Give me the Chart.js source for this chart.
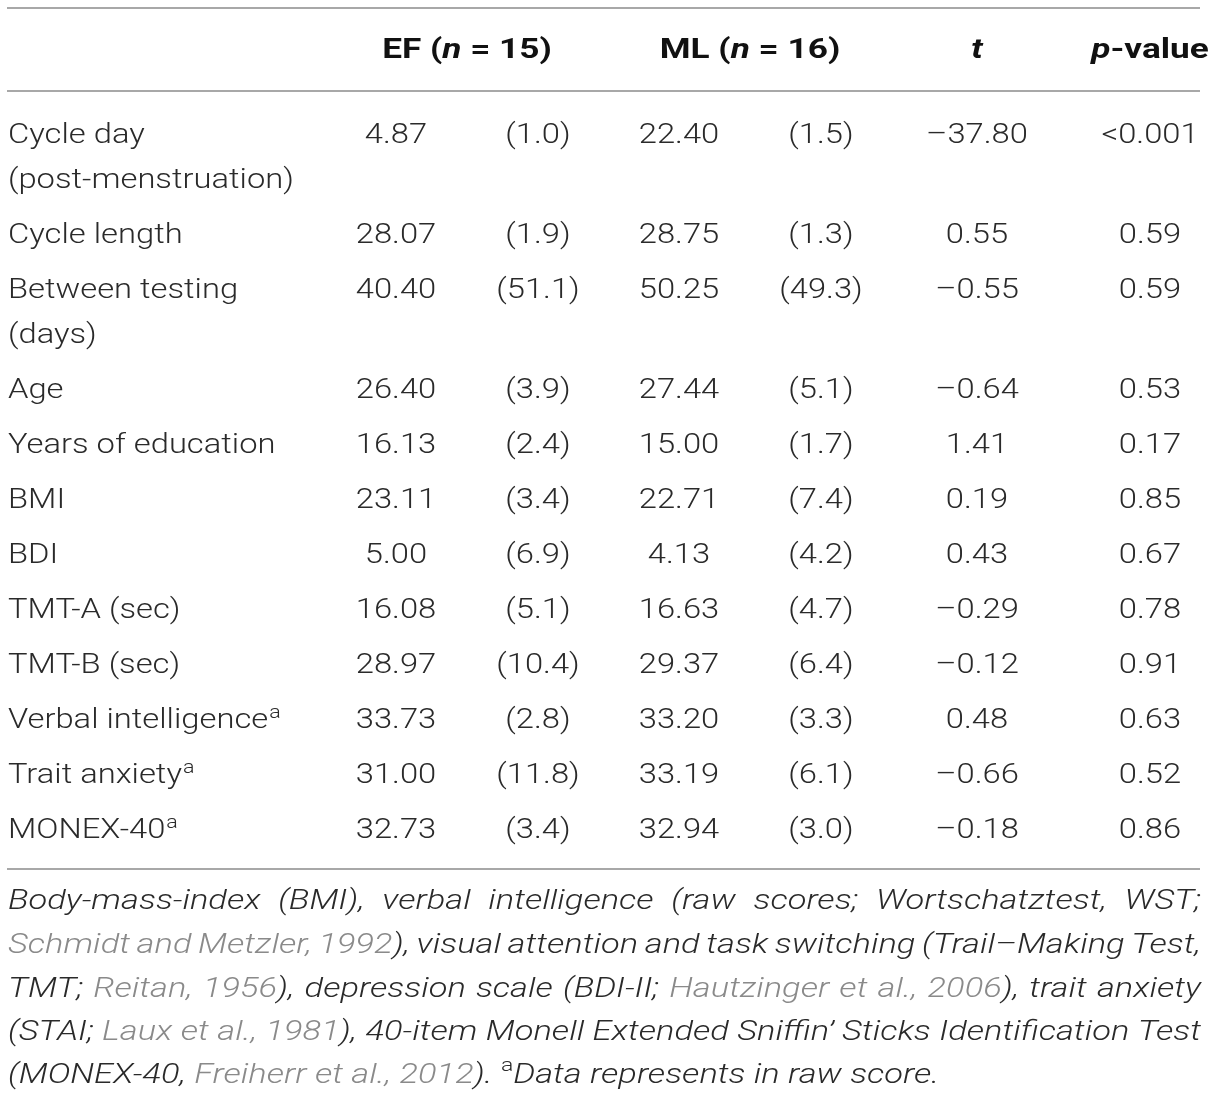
<!DOCTYPE html>
<html>
<head>
<meta charset="utf-8">
<script src="https://cdn.jsdelivr.net/npm/chart.js@4.4.1/dist/chart.umd.min.js"></script>
<style>
  html, body { margin: 0; padding: 0; background: #fff; }
  #wrap { width: 1215px; height: 1101px; position: relative; }
</style>
</head>
<body>
<div id="wrap"><canvas id="table"></canvas></div>

<script>
// table values
const rowLabels = [
    ["Cycle day", "(post-menstruation)"],
    ["Cycle length"],
    ["Between testing", "(days)"],
    ["Age"],
    ["Years of education"],
    ["BMI"],
    ["BDI"],
    ["TMT-A (sec)"],
    ["TMT-B (sec)"],
    ["Verbal intelligence"],
    ["Trait anxiety"],
    ["MONEX-40"]
];
const labelNotes = ["", "", "", "", "", "", "", "", "", "a", "a", "a"];
const efMean = [4.87, 28.07, 40.40, 26.40, 16.13, 23.11, 5.00, 16.08, 28.97, 33.73, 31.00, 32.73];
const efSD   = [1.0, 1.9, 51.1, 3.9, 2.4, 3.4, 6.9, 5.1, 10.4, 2.8, 11.8, 3.4];
const mlMean = [22.40, 28.75, 50.25, 27.44, 15.00, 22.71, 4.13, 16.63, 29.37, 33.20, 33.19, 32.94];
const mlSD   = [1.5, 1.3, 49.3, 5.1, 1.7, 7.4, 4.2, 4.7, 6.4, 3.3, 6.1, 3.0];
const tValues = [-37.80, 0.55, -0.55, -0.64, 1.41, 0.19, 0.43, -0.29, -0.12, 0.48, -0.66, -0.18];
const pValues = ["<0.001", "0.59", "0.59", "0.53", "0.17", "0.85", "0.67", "0.78", "0.91", "0.63", "0.52", "0.86"];

// header runs: [text, italic?]
const headers = [
    { col: 1.5, runs: [["EF (", false], ["n", true], [" = 15)", false]] },
    { col: 3.5, runs: [["ML (", false], ["n", true], [" = 16)", false]] },
    { col: 5,   runs: [["t", true]] },
    { col: 6,   runs: [["p", true], ["-value", false]] }
];

// footnote: n = normal, c = citation (grey), s = superscript
const footnote = [
    [["Body-mass-index (BMI), verbal intelligence (raw scores; Wortschatztest, WST;", "n"]],
    [["Schmidt and Metzler, 1992", "c"], ["), visual attention and task switching (Trail\u2013Making Test,", "n"]],
    [["TMT; ", "n"], ["Reitan, 1956", "c"], ["), depression scale (BDI-II; ", "n"], ["Hautzinger et al., 2006", "c"], ["), trait anxiety", "n"]],
    [["(STAI; ", "n"], ["Laux et al., 1981", "c"], ["), 40-item Monell Extended Sniffin\u2019 Sticks Identification Test", "n"]],
    [["(MONEX-40, ", "n"], ["Freiherr et al., 2012", "c"], ["). ", "n"], ["a", "s"], ["Data represents in raw score.", "n"]]
];

// layout (x in px-like units, y in row units of 55px)
const colX = [8, 396, 538, 679, 821, 977, 1150];
const ruleLeft = 7, ruleRight = 1200;
const rulesY = [-2.273, -0.764, 13.38];
const headerY = -1.533;
const contLine = 0.818;
const footY = [14.113, 14.906, 15.70, 16.49, 17.28];
const footLeft = 8, footRight = 1201;

const TXT = '#2a2a2a', GREY = '#8a8a8a', RULE = '#a8a8a8';
const FONT = 'Roboto, "Liberation Sans", sans-serif';
const BODY_PX = 27.5, BODY_SX = 1.19;
const HEAD_SX = 1.28;
const FN_PX = 28.5, FN_SX = 1.21;

// row positions
const rowY = [];
let acc = 0;
rowLabels.forEach(lines => { rowY.push(acc); acc += 1 + (lines.length - 1) * contLine; });

const fmtMean = v => v.toFixed(2);
const fmtSD = v => '(' + v.toFixed(1) + ')';
const fmtT = v => (v < 0 ? '\u2013' : '') + Math.abs(v).toFixed(2);

function column(ci, texts, align) {
    return {
        data: texts.map((_, i) => ({ x: colX[ci], y: rowY[i] })),
        texts: texts,
        align: align,
        pointRadius: 0,
        showLine: false
    };
}

const datasets = [
    column(0, rowLabels, 'left'),
    column(1, efMean.map(fmtMean), 'center'),
    column(2, efSD.map(fmtSD), 'center'),
    column(3, mlMean.map(fmtMean), 'center'),
    column(4, mlSD.map(fmtSD), 'center'),
    column(5, tValues.map(fmtT), 'center'),
    column(6, pValues, 'center')
];

// stretched text helpers
function fill(ctx, text, x, y, sx) {
    ctx.save();
    ctx.translate(x, y);
    ctx.scale(sx, 1);
    ctx.fillText(text, 0, 0);
    ctx.restore();
}
function width(ctx, font, text, sx) {
    ctx.font = font;
    return ctx.measureText(text).width * sx;
}

const tablePlugin = {
    id: 'tableText',
    afterDatasetsDraw(chart) {
        const { ctx, scales: { x, y } } = chart;
        const capOff = BODY_PX * 0.355;
        ctx.save();
        ctx.textBaseline = 'alphabetic';

        // rules
        ctx.strokeStyle = RULE;
        ctx.lineWidth = 2;
        rulesY.forEach(v => {
            const py = Math.round(y.getPixelForValue(v));
            ctx.beginPath();
            ctx.moveTo(x.getPixelForValue(ruleLeft), py);
            ctx.lineTo(x.getPixelForValue(ruleRight), py);
            ctx.stroke();
        });

        // header
        ctx.fillStyle = '#111';
        ctx.textAlign = 'left';
        const hy = y.getPixelForValue(headerY) + capOff;
        headers.forEach(h => {
            const cx = h.col % 1 ? (colX[Math.floor(h.col)] + colX[Math.ceil(h.col)]) / 2 : colX[h.col];
            const fonts = h.runs.map(r => (r[1] ? 'italic ' : '') + `bold ${BODY_PX}px ${FONT}`);
            const widths = h.runs.map((r, i) => width(ctx, fonts[i], r[0], HEAD_SX));
            let px = x.getPixelForValue(cx) - widths.reduce((a, b) => a + b, 0) / 2;
            h.runs.forEach((r, i) => {
                ctx.font = fonts[i];
                fill(ctx, r[0], px, hy, HEAD_SX);
                px += widths[i];
            });
        });

        // cells
        const bodyFont = `300 ${BODY_PX}px ${FONT}`;
        const supFont = `300 18px ${FONT}`;
        ctx.fillStyle = TXT;
        chart.data.datasets.forEach((ds, di) => {
            const meta = chart.getDatasetMeta(di);
            ctx.textAlign = ds.align;
            meta.data.forEach((pt, i) => {
                const t = ds.texts[i];
                if (Array.isArray(t)) {
                    t.forEach((line, li) => {
                        const ly = y.getPixelForValue(ds.data[i].y + li * contLine) + capOff;
                        ctx.font = bodyFont;
                        fill(ctx, line, pt.x, ly, BODY_SX);
                        if (li === 0 && labelNotes[i]) {
                            const w = width(ctx, bodyFont, line, BODY_SX);
                            ctx.font = supFont;
                            fill(ctx, labelNotes[i], pt.x + w + 1, ly - 10, BODY_SX);
                        }
                    });
                } else {
                    ctx.font = bodyFont;
                    fill(ctx, t, pt.x, pt.y + capOff, BODY_SX);
                }
            });
        });

        // footnote
        const fnFont = `italic 300 ${FN_PX}px ${FONT}`;
        const fnSup = `300 19px ${FONT}`;
        const styleFont = s => s === 's' ? fnSup : fnFont;
        ctx.textAlign = 'left';
        footnote.forEach((line, li) => {
            const words = [[]];
            line.forEach(([text, st]) => {
                text.split(' ').forEach((part, j) => {
                    if (j > 0) words.push([]);
                    if (part !== '') words[words.length - 1].push([part, st]);
                });
            });
            const ws = words.filter(w => w.length);
            const wW = ws.map(w => w.reduce((a, [t, st]) => a + width(ctx, styleFont(st), t, FN_SX), 0));
            const total = wW.reduce((a, b) => a + b, 0);
            const left = x.getPixelForValue(footLeft), right = x.getPixelForValue(footRight);
            const last = li === footnote.length - 1;
            const gap = last ? width(ctx, fnFont, ' ', FN_SX) : (right - left - total) / (ws.length - 1);
            const by = y.getPixelForValue(footY[li]);
            let px = left;
            ws.forEach(w => {
                w.forEach(([t, st]) => {
                    ctx.font = styleFont(st);
                    ctx.fillStyle = st === 'c' ? GREY : TXT;
                    fill(ctx, t, px, st === 's' ? by - 12 : by, FN_SX);
                    px += ctx.measureText(t).width * FN_SX;
                });
                px += gap;
            });
        });
        ctx.restore();
    }
};

new Chart(document.getElementById('table'), {
    type: 'scatter',
    data: { datasets: datasets },
    options: {
        responsive: true,
        maintainAspectRatio: false,
        animation: false,
        events: [],
        layout: { padding: 0 },
        plugins: { legend: { display: false }, tooltip: { enabled: false } },
        scales: {
            x: { type: 'linear', display: false, min: 0, max: 1215 },
            y: { type: 'linear', display: false, reverse: true, min: -133 / 55, max: -133 / 55 + 1101 / 55 }
        }
    },
    plugins: [tablePlugin]
});
</script>
</body>
</html>
